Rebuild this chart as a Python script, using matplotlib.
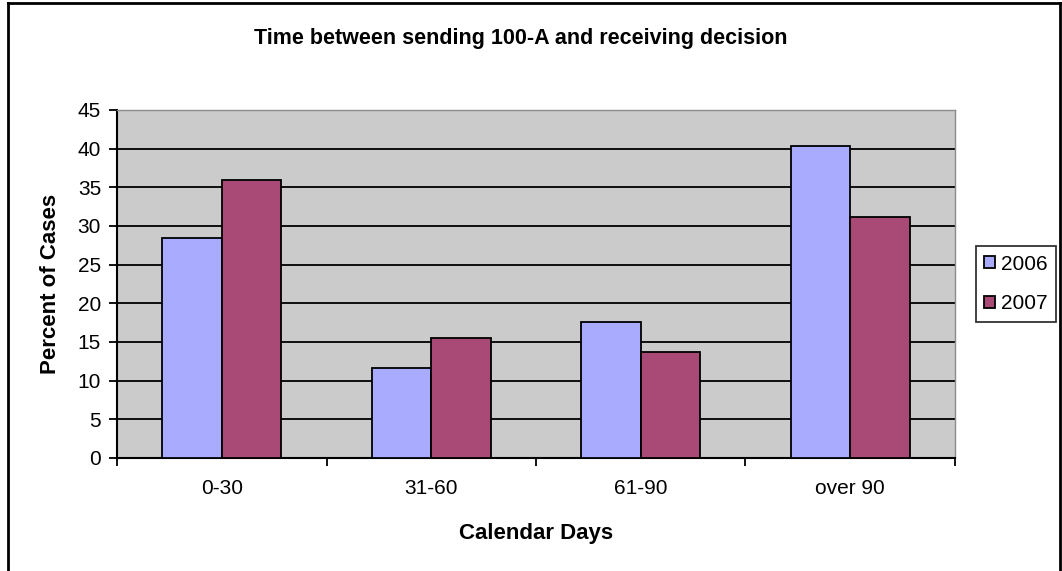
import matplotlib
matplotlib.use("Agg")
from matplotlib import pyplot as plt
from matplotlib.lines import Line2D
import numpy as np

categories = ['0-30', '31-60', '61-90', 'over 90']
years = ['2006', '2007']
pct_2006 = [28.5, 11.6, 17.6, 40.3]
pct_2007 = [35.9, 15.5, 13.7, 31.2]

plt.rcParams['font.family'] = ['Liberation Sans', 'DejaVu Sans']

fig = plt.figure(figsize=(10.62, 5.71), dpi=100)
ax = fig.add_axes([0.1102, 0.1979, 0.7890, 0.6095])
ax.set_facecolor('#CBCBCB')

x = np.arange(len(categories))
w = 0.285
ax.bar(x - w / 2, pct_2006, width=w, color='#A9ABFF', edgecolor='black',
       linewidth=1.3, label=years[0], zorder=3)
ax.bar(x + w / 2, pct_2007, width=w, color='#A94A76', edgecolor='black',
       linewidth=1.3, label=years[1], zorder=3)

ax.set_xlim(-0.5, len(categories) - 0.5)
ax.set_ylim(0, 45)
ax.set_yticks(np.arange(0, 46, 5))
ax.yaxis.grid(True, color='black', linewidth=1.3, zorder=1)
ax.set_axisbelow(True)

ax.set_xticks(x)
ax.set_xticklabels(categories, fontsize=15)
ax.set_xticks(np.arange(-0.5, len(categories), 1), minor=True)
ax.tick_params(axis='x', which='major', length=0, pad=15)
ax.tick_params(axis='x', which='minor', length=5.5, width=1.3, direction='out')
ax.tick_params(axis='y', length=5.5, width=1.3, direction='out', labelsize=15, pad=6)

for s in ['top', 'right']:
    ax.spines[s].set_color('#8C8C8C')
    ax.spines[s].set_linewidth(1)
for s in ['left', 'bottom']:
    ax.spines[s].set_color('black')
    ax.spines[s].set_linewidth(1.5)

ax.set_ylabel('Percent of Cases', fontsize=16, fontweight='bold', labelpad=12)
ax.set_xlabel('Calendar Days', fontsize=16, fontweight='bold', labelpad=18)

fig.text(0.4906, 0.933, 'Time between sending 100-A and receiving decision',
         ha='center', va='center', fontsize=15.5, fontweight='bold')

leg = ax.legend(loc='center left', bbox_to_anchor=(1.025, 0.5), fontsize=15,
                frameon=True, fancybox=False, edgecolor='black',
                handlelength=0.5, handleheight=0.5, handletextpad=0.3,
                borderpad=0.4, labelspacing=1.0, borderaxespad=0)
leg.get_frame().set_linewidth(1.3)

# outer chart border
fw, fh = 1062, 571
for xs, ys in [([8, 8], [0, 568]), ([8, 1060], [568, 568]), ([1060, 1060], [0, 568])]:
    fig.add_artist(Line2D([v / fw for v in xs], [v / fh for v in ys],
                          color='black', linewidth=2, transform=fig.transFigure))

fig.savefig('out.png', dpi=100)
